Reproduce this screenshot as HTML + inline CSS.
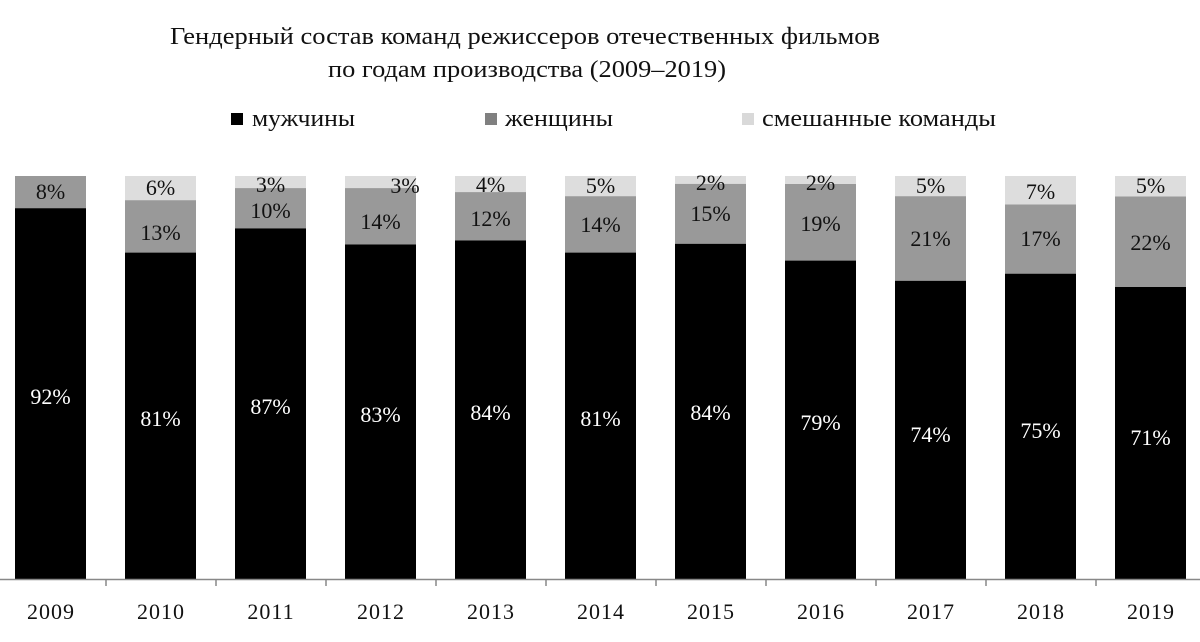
<!DOCTYPE html>
<html><head><meta charset="utf-8"><style>html,body{margin:0;padding:0;background:#fff}svg{display:block}</style></head>
<body>
<svg width="1200" height="642" xmlns="http://www.w3.org/2000/svg" font-family="Liberation Serif, DejaVu Serif, serif">
<text x="170" y="44" font-size="24" textLength="710" lengthAdjust="spacingAndGlyphs" fill="#111">Гендерный состав команд режиссеров отечественных фильмов</text>
<text x="328" y="77" font-size="24" textLength="398" lengthAdjust="spacingAndGlyphs" fill="#111">по годам производства (2009–2019)</text>
<rect x="231" y="113" width="12" height="12" fill="#000"/>
<text x="252" y="126" font-size="24" textLength="103" lengthAdjust="spacingAndGlyphs" fill="#111">мужчины</text>
<rect x="485" y="113" width="12" height="12" fill="#808080"/>
<text x="505" y="126" font-size="24" textLength="108" lengthAdjust="spacingAndGlyphs" fill="#111">женщины</text>
<rect x="742" y="113" width="12" height="12" fill="#d9d9d9"/>
<text x="762" y="126" font-size="24" textLength="234" lengthAdjust="spacingAndGlyphs" fill="#111">смешанные команды</text>

<g>
<rect x="15" y="176" width="71" height="32.2" fill="#999"/><rect x="15" y="208.2" width="71" height="370.8" fill="#000"/>
<rect x="125" y="176" width="71" height="24.2" fill="#ddd"/><rect x="125" y="200.2" width="71" height="52.4" fill="#999"/><rect x="125" y="252.6" width="71" height="326.4" fill="#000"/>
<rect x="235" y="176" width="71" height="12.1" fill="#ddd"/><rect x="235" y="188.1" width="71" height="40.3" fill="#999"/><rect x="235" y="228.4" width="71" height="350.6" fill="#000"/>
<rect x="345" y="176" width="71" height="12.1" fill="#ddd"/><rect x="345" y="188.1" width="71" height="56.4" fill="#999"/><rect x="345" y="244.5" width="71" height="334.5" fill="#000"/>
<rect x="455" y="176" width="71" height="16.1" fill="#ddd"/><rect x="455" y="192.1" width="71" height="48.4" fill="#999"/><rect x="455" y="240.5" width="71" height="338.5" fill="#000"/>
<rect x="565" y="176" width="71" height="20.2" fill="#ddd"/><rect x="565" y="196.2" width="71" height="56.4" fill="#999"/><rect x="565" y="252.6" width="71" height="326.4" fill="#000"/>
<rect x="675" y="176" width="71" height="7.9" fill="#ddd"/><rect x="675" y="183.9" width="71" height="59.9" fill="#999"/><rect x="675" y="243.8" width="71" height="335.2" fill="#000"/>
<rect x="785" y="176" width="71" height="8" fill="#ddd"/><rect x="785" y="184" width="71" height="76.6" fill="#999"/><rect x="785" y="260.6" width="71" height="318.4" fill="#000"/>
<rect x="895" y="176" width="71" height="20.2" fill="#ddd"/><rect x="895" y="196.2" width="71" height="84.6" fill="#999"/><rect x="895" y="280.8" width="71" height="298.2" fill="#000"/>
<rect x="1005" y="176" width="71" height="28.5" fill="#ddd"/><rect x="1005" y="204.5" width="71" height="69.2" fill="#999"/><rect x="1005" y="273.7" width="71" height="305.3" fill="#000"/>
<rect x="1115" y="176" width="71" height="20.5" fill="#ddd"/><rect x="1115" y="196.5" width="71" height="90.5" fill="#999"/><rect x="1115" y="287" width="71" height="292" fill="#000"/>
</g>
<line x1="0" y1="579.5" x2="1200" y2="579.5" stroke="#888" stroke-width="1.5"/>
<g stroke="#888" stroke-width="1.5">
<line x1="106" y1="579" x2="106" y2="586"/><line x1="216" y1="579" x2="216" y2="586"/><line x1="326" y1="579" x2="326" y2="586"/><line x1="436" y1="579" x2="436" y2="586"/><line x1="546" y1="579" x2="546" y2="586"/><line x1="656" y1="579" x2="656" y2="586"/><line x1="766" y1="579" x2="766" y2="586"/><line x1="876" y1="579" x2="876" y2="586"/><line x1="986" y1="579" x2="986" y2="586"/><line x1="1096" y1="579" x2="1096" y2="586"/>
</g>
<g font-size="22" text-anchor="middle" fill="#111">
<text x="50.5" y="199">8%</text>
<text x="160.5" y="195">6%</text><text x="160.5" y="240">13%</text>
<text x="270.5" y="192">3%</text><text x="270.5" y="218">10%</text>
<text x="405" y="193">3%</text><text x="380.5" y="229">14%</text>
<text x="490.5" y="192">4%</text><text x="490.5" y="226">12%</text>
<text x="600.5" y="193">5%</text><text x="600.5" y="232">14%</text>
<text x="710.5" y="190">2%</text><text x="710.5" y="221">15%</text>
<text x="820.5" y="190">2%</text><text x="820.5" y="231">19%</text>
<text x="930.5" y="193">5%</text><text x="930.5" y="246">21%</text>
<text x="1040.5" y="199">7%</text><text x="1040.5" y="246">17%</text>
<text x="1150.5" y="193">5%</text><text x="1150.5" y="250">22%</text>
</g>
<g font-size="22" text-anchor="middle" fill="#fff">
<text x="50.5" y="404">92%</text><text x="160.5" y="426">81%</text><text x="270.5" y="414">87%</text><text x="380.5" y="422">83%</text><text x="490.5" y="420">84%</text><text x="600.5" y="426">81%</text><text x="710.5" y="420">84%</text><text x="820.5" y="430">79%</text><text x="930.5" y="442">74%</text><text x="1040.5" y="438">75%</text><text x="1150.5" y="445">71%</text>
</g>
<g font-size="22" text-anchor="middle" fill="#111" letter-spacing="1">
<text x="51" y="619">2009</text><text x="161" y="619">2010</text><text x="271" y="619">2011</text><text x="381" y="619">2012</text><text x="491" y="619">2013</text><text x="601" y="619">2014</text><text x="711" y="619">2015</text><text x="821" y="619">2016</text><text x="931" y="619">2017</text><text x="1041" y="619">2018</text><text x="1151" y="619">2019</text>
</g>
</svg>
</body></html>
